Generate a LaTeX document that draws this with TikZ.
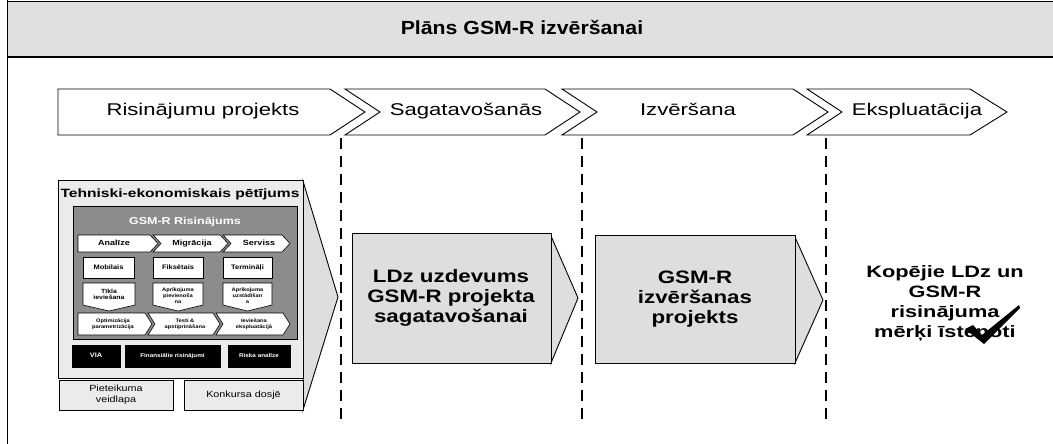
\documentclass[tikz,border=0pt]{standalone}
\usepackage{fontspec}
\setmainfont{Liberation Sans}
\definecolor{hdrgray}{gray}{0.88}
\definecolor{boxgray}{gray}{0.87}
\definecolor{lightgray}{gray}{0.92}
\definecolor{innergray}{gray}{0.55}
\newcommand{\stx}[2][1.28]{\scalebox{#1}[1]{\begin{tabular}{@{}c@{}}#2\end{tabular}}}
\begin{document}
\begin{tikzpicture}[x=1pt,y=-1pt,line join=miter,
  frame/.style={draw=black,line width=1pt},
  phase/.style={draw=black,line width=0.9pt,fill=white},
  phasetext/.style={font=\fontsize{17}{20}\selectfont,inner sep=0pt},
  bigtext/.style={font=\bfseries\fontsize{18}{20}\selectfont,inner sep=0pt},
  endtext/.style={font=\bfseries\fontsize{16.5}{20}\selectfont,inner sep=0pt},
  stage/.style={draw=black,line width=0.9pt,fill=boxgray},
  sep/.style={draw=black,line width=1.6pt,dash pattern=on 11pt off 7pt},
  inbox/.style={draw=black,line width=0.6pt,fill=white},
  tiny/.style={font=\bfseries\fontsize{6.5}{7.5}\selectfont,inner sep=0pt},
  smalllab/.style={font=\bfseries\fontsize{7.5}{9}\selectfont,inner sep=0pt},
  darkbox/.style={draw=black,line width=0.6pt,fill=black},
  docbox/.style={draw=black,line width=0.8pt,fill=lightgray}]
\useasboundingbox (0,0) rectangle (1053,444);

% header and frame
\fill[hdrgray] (7,2) rectangle (1053,57);
\draw[line width=1.6pt] (7,1.5) -- (1053,1.5);
\draw[line width=1.2pt] (7,57) -- (1053,57);
\draw[line width=1pt] (7,0) -- (7,444);
\node[font=\bfseries\fontsize{19}{22}\selectfont,inner sep=0pt] (title) at (522,30) {\stx[1.12]{Plāns GSM-R izvēršanai}};

% phase chevrons
\draw[phase] (58,89) -- (330,89) -- (365,112) -- (330,135) -- (58,135) -- cycle;
\draw[phase] (345,89) -- (545,89) -- (580,112) -- (545,135) -- (345,135) -- (380,112) -- cycle;
\draw[phase] (562,89) -- (793,89) -- (828,112) -- (793,135) -- (562,135) -- (597,112) -- cycle;
\draw[phase] (807,89) -- (970,89) -- (1007,112) -- (970,135) -- (807,135) -- (842,112) -- cycle;
\node[phasetext] (p1) at (203,112) {\stx[1.3]{Risinājumu projekts}};
\node[phasetext] (p2) at (466,112) {\stx[1.3]{Sagatavošanās}};
\node[phasetext] (p3) at (688,112) {\stx[1.3]{Izvēršana}};
\node[phasetext] (p4) at (917,112) {\stx[1.3]{Ekspluatācija}};

% dashed separators
\coordinate (d1t) at (341,138); \coordinate (d1b) at (341,420);
\coordinate (d2t) at (582,138); \coordinate (d2b) at (582,420);
\coordinate (d3t) at (826,138); \coordinate (d3b) at (826,420);
\draw[sep] (d1t) -- (d1b);
\draw[sep] (d2t) -- (d2b);
\draw[sep] (d3t) -- (d3b);

% left group: study
\draw[stage] (303,181) -- (338,297) -- (303,410) -- cycle;
\draw[frame,fill=lightgray,line width=0.9pt] (58,180) rectangle (303,378);
\node[font=\bfseries\fontsize{12}{14}\selectfont,inner sep=0pt] (tep) at (180,195) {\stx[1.3]{Tehniski-ekonomiskais pētījums}};
\draw[draw=black,line width=0.8pt,fill=innergray] (73,206) rectangle (297,339);
\node[font=\bfseries\fontsize{10}{12}\selectfont,text=white,inner sep=0pt] (gsmr) at (185,222) {\stx[1.25]{GSM-R Risinājums}};
% sub chevrons row 1
\draw[inbox] (78,235) -- (150,235) -- (158,243.5) -- (150,252) -- (78,252) -- cycle;
\draw[inbox] (153,235) -- (220,235) -- (228,243.5) -- (220,252) -- (153,252) -- (161,243.5) -- cycle;
\draw[inbox] (223,235) -- (282,235) -- (290,243.5) -- (282,252) -- (223,252) -- (231,243.5) -- cycle;
\node[smalllab] (an) at (114,243.5) {\stx[1.2]{Analīze}};
\node[smalllab] (mi) at (192,243.5) {\stx[1.2]{Migrācija}};
\node[smalllab] (se) at (259,243.5) {\stx[1.2]{Serviss}};
% boxes row
\draw[inbox] (83,257) rectangle (134,278);
\draw[inbox] (153,257) rectangle (203,278);
\draw[inbox] (223,257) rectangle (272,278);
\node[tiny] (mob) at (108.5,267.5) {\stx[1.15]{Mobilais}};
\node[tiny] (fik) at (178,267.5) {\stx[1.15]{Fiksētais}};
\node[tiny] (ter) at (247.5,267.5) {\stx[1.15]{Termināļi}};
% pointed boxes row
\draw[inbox] (83,283) -- (135,283) -- (135,305) -- (109,311) -- (83,305) -- cycle;
\draw[inbox] (153,283) -- (203,283) -- (203,305) -- (178,311) -- (153,305) -- cycle;
\draw[inbox] (223,283) -- (272,283) -- (272,305) -- (247.5,311) -- (223,305) -- cycle;
\node[tiny,font=\bfseries\fontsize{6}{6.5}\selectfont] (tik) at (109,295) {\stx[1.15]{Tīkla\\ieviešana}};
\node[tiny,font=\bfseries\fontsize{5}{6}\selectfont] (apv) at (178,296) {\stx[1.15]{Aprīkojuma\\pievienoša\\na}};
\node[tiny,font=\bfseries\fontsize{5}{6}\selectfont] (apu) at (247.5,296) {\stx[1.15]{Aprīkojuma\\uzstādīšan\\a}};
% sub chevrons row 3
\draw[inbox] (78,313) -- (145,313) -- (152,324) -- (145,335) -- (78,335) -- cycle;
\draw[inbox] (148,313) -- (213,313) -- (220,324) -- (213,335) -- (148,335) -- (155,324) -- cycle;
\draw[inbox] (216,313) -- (283,313) -- (290,324) -- (283,335) -- (216,335) -- (223,324) -- cycle;
\node[tiny,font=\bfseries\fontsize{5}{6}\selectfont] (opt) at (113,324) {\stx[1.15]{Optimizācija\\parametrizācija}};
\node[tiny,font=\bfseries\fontsize{5}{6}\selectfont] (tes) at (185,324) {\stx[1.15]{Testi \&\\apstiprināšana}};
\node[tiny,font=\bfseries\fontsize{5}{6}\selectfont] (iev) at (254,324) {\stx[1.15]{Ieviešana\\ekspluatācijā}};
% dark row
\draw[darkbox] (72,345) rectangle (120,367);
\draw[darkbox] (125,345) rectangle (220,367);
\draw[darkbox] (228,345) rectangle (290,367);
\node[tiny,text=white] (via) at (96,356) {\stx[1.15]{VIA}};
\node[tiny,text=white,font=\bfseries\fontsize{5.5}{6.5}\selectfont] (fin) at (172.5,356) {\stx[1.15]{Finansiālie risinājumi}};
\node[tiny,text=white,font=\bfseries\fontsize{5.5}{6.5}\selectfont] (ris) at (259,356) {\stx[1.15]{Riska analīze}};
% document boxes
\draw[docbox] (59,380) rectangle (173,410);
\draw[docbox] (184,380) rectangle (303,410);
\node[font=\fontsize{9}{10.5}\selectfont,inner sep=0pt] (piet) at (116,395) {\stx[1.2]{Pieteikuma\\veidlapa}};
\node[font=\fontsize{9}{10.5}\selectfont,inner sep=0pt] (konk) at (243.5,395) {\stx[1.2]{Konkursa dosjē}};

% stage 2 box
\draw[stage] (551,236) -- (578,298) -- (551,363) -- cycle;
\draw[stage] (352,233) rectangle (551,363);
\node[bigtext] (ldz) at (451,298) {\stx[1.24]{LDz uzdevums\\GSM-R projekta\\sagatavošanai}};

% stage 3 box
\draw[stage] (795,237) -- (823,300) -- (795,363) -- cycle;
\draw[stage] (595,235) rectangle (795,363);
\node[bigtext] (izv) at (695,299) {\stx[1.24]{GSM-R\\izvēršanas\\projekts}};

% final goal
\node[endtext] (goal) at (945,303) {\stx[1.32]{Kopējie LDz un\\GSM-R\\risinājuma\\mērķi īstenoti}};
\fill[black] (965,329) -- (973,325) -- (982,335) -- (1019,305) -- (1020,308) -- (984,344) -- cycle;
\end{tikzpicture}
\end{document}
